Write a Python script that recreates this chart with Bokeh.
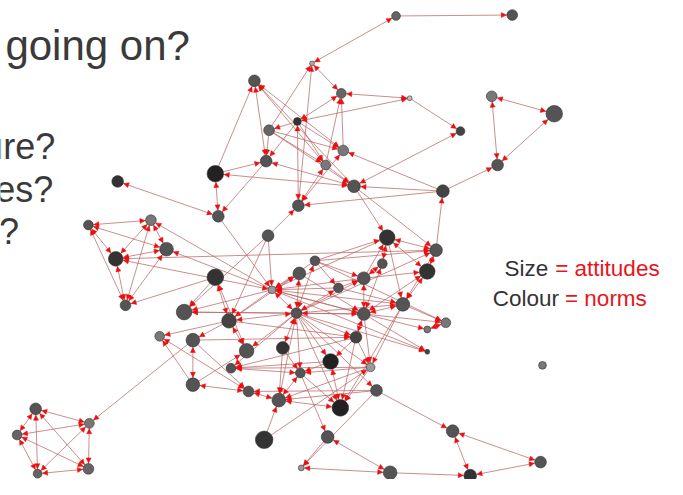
import numpy as np
from bokeh.plotting import figure
from bokeh.models import ColumnDataSource, Range1d, Arrow, NormalHead
from bokeh.core.properties import value
from bokeh.embed import file_html
from bokeh.resources import INLINE

# ---- network data (layout positions, attitudes -> size, norms -> colour) ----
layout_x = [405, 524, 319, 260, 349, 419, 503, 567, 304, 275,
            471, 351, 272, 333, 509, 220, 362, 453, 305, 223,
            120, 90, 154, 274, 396, 170, 118, 128, 446, 322,
            391, 437, 220, 306, 372, 278, 346, 412, 188, 303,
            372, 234, 456, 437, 163, 197, 364, 437, 252, 289,
            338, 236, 307, 379, 197, 254, 385, 285, 348, 555,
            36, 17, 91, 90, 38, 270, 335, 308, 399, 463,
            553, 481]
layout_y = [16, 15, 65, 83, 96, 101, 99, 117, 125, 134,
            135, 155, 166, 170, 170, 179, 192, 197, 212, 223,
            187, 232, 227, 243, 245, 257, 267, 315, 258, 269,
            272, 280, 286, 282, 287, 299, 297, 314, 322, 323,
            324, 331, 333, 340, 347, 351, 348, 363, 362, 359,
            373, 380, 385, 379, 397, 404, 403, 413, 421, 377,
            422, 449, 437, 484, 489, 454, 451, 483, 488, 445,
            477, 491]
attitude = [4.5, 5.5, 2.5, 6, 5, 2.5, 5.5, 8.5, 4, 5.5,
            4.5, 5.5, 6, 5, 6, 8.5, 6.5, 6.5, 6, 6,
            6, 5, 5.5, 6, 8, 7, 7.5, 5.5, 6.5, 5,
            5, 8, 8.5, 6.5, 6.5, 4, 5, 7, 8, 5.5,
            6.5, 7.5, 5, 3.5, 5, 7, 6, 2.5, 7.5, 6.5,
            8, 5, 5, 4.5, 7, 5.5, 6, 7, 8.5, 4,
            6, 5, 5, 5.5, 4.5, 9, 6.5, 3, 7, 6.5,
            6, 6.5]
norm = [0.44, 0.33, 0.89, 0.33, 0.44, 1.0, 0.56, 0.33, 0.11, 0.44,
        0.22, 0.56, 0.33, 0.56, 0.33, 0.0, 0.33, 0.22, 0.33, 0.33,
        0.11, 0.33, 0.56, 0.33, 0.11, 0.33, 0.11, 0.33, 0.33, 0.33,
        0.33, 0.11, 0.11, 0.33, 0.33, 0.78, 0.33, 0.33, 0.33, 0.33,
        0.33, 0.22, 0.56, 0.56, 0.56, 0.33, 0.22, 0.22, 0.33, 0.11,
        0.0, 0.33, 0.33, 0.78, 0.33, 0.33, 0.33, 0.33, 0.0, 0.56,
        0.33, 0.44, 0.56, 0.44, 0.44, 0.11, 0.33, 0.78, 0.33, 0.33,
        0.33, 0.11]

edge_list = [
    (0, 1, 0), (0, 2, 1), (2, 4, 1), (4, 5, 1), (5, 10, 0), (6, 7, 1), (6, 14, 1), (7, 14, 1),
    (17, 14, 0), (10, 16, 1), (15, 3, 0), (3, 12, 1), (3, 11, 1), (3, 13, 1), (16, 3, 0),
    (8, 4, 1), (8, 5, 1), (8, 9, 0), (8, 12, 0), (8, 18, 1), (8, 13, 0), (8, 11, 0),
    (9, 2, 0), (18, 2, 0), (9, 12, 0), (9, 13, 0), (9, 11, 0), (9, 16, 0),
    (12, 16, 1), (16, 15, 1), (15, 12, 0), (15, 19, 1), (12, 19, 0), (17, 16, 0), (17, 11, 0),
    (17, 18, 0), (16, 24, 0), (16, 28, 0), (28, 17, 0), (13, 4, 0), (11, 4, 0), (13, 18, 1),
    (11, 18, 1), (23, 18, 0), (13, 16, 0), (20, 19, 1), (19, 35, 0),
    (21, 22, 1), (21, 26, 1), (21, 25, 1), (21, 27, 1), (22, 26, 1), (22, 25, 1), (22, 27, 1),
    (25, 26, 1), (25, 27, 1), (26, 27, 1),
    (35, 22, 0), (35, 25, 0), (26, 28, 1), (29, 28, 0), (35, 26, 1), (32, 27, 0), (32, 38, 0),
    (23, 38, 0), (23, 41, 0), (29, 35, 0),
    (33, 35, 1), (39, 35, 1), (36, 35, 0), (34, 35, 0), (40, 35, 0), (37, 35, 0), (23, 35, 0),
    (24, 35, 0), (35, 38, 0), (35, 41, 0), (32, 41, 1), (32, 48, 1),
    (39, 33, 1), (41, 33, 0), (33, 40, 0), (39, 29, 1), (29, 36, 0), (29, 34, 0), (29, 24, 0),
    (24, 30, 1), (30, 34, 1), (34, 24, 0), (24, 37, 0), (24, 28, 1), (24, 31, 1), (28, 31, 1),
    (28, 37, 0), (31, 37, 1), (40, 31, 1), (34, 40, 1), (36, 34, 0), (34, 31, 0), (40, 37, 1),
    (40, 42, 0), (40, 43, 0), (42, 43, 1), (40, 46, 1), (30, 40, 1),
    (39, 36, 1), (39, 34, 0), (39, 40, 1), (39, 37, 0), (39, 46, 0), (39, 49, 1), (39, 52, 0),
    (39, 50, 0), (39, 53, 0), (39, 58, 0), (39, 56, 0), (39, 57, 1), (39, 41, 1), (39, 38, 0),
    (39, 48, 0), (39, 28, 0), (39, 47, 0),
    (36, 37, 0), (40, 38, 0), (29, 42, 0), (35, 47, 0), (40, 47, 0), (35, 40, 0), (37, 42, 0),
    (54, 45, 1), (44, 55, 1), (45, 55, 0), (54, 55, 1), (54, 44, 0), (45, 62, 0), (41, 48, 1),
    (41, 45, 0), (45, 46, 0), (41, 46, 0), (41, 44, 0), (54, 48, 0),
    (49, 52, 0), (49, 57, 0), (53, 51, 0), (50, 51, 0), (52, 51, 1), (46, 51, 0), (39, 51, 0),
    (53, 52, 0), (50, 52, 0), (52, 58, 0), (52, 57, 1), (52, 66, 0),
    (50, 58, 1), (53, 57, 0), (53, 58, 0), (46, 53, 0), (37, 53, 0), (40, 53, 0),
    (57, 55, 1), (56, 55, 0), (56, 57, 0), (56, 67, 0), (56, 69, 0), (57, 58, 1), (65, 57, 0),
    (65, 53, 0), (46, 58, 0), (37, 58, 0), (46, 50, 0),
    (66, 68, 1), (66, 67, 0), (67, 68, 1), (68, 71, 0), (69, 71, 1), (69, 70, 1), (70, 71, 1),
    (60, 61, 1), (60, 62, 1), (60, 63, 1), (60, 64, 1), (61, 62, 1), (61, 63, 1), (61, 64, 1),
    (62, 63, 1), (62, 64, 1), (63, 64, 1),
]
edge_src = [e[0] for e in edge_list]
edge_dst = [e[1] for e in edge_list]
edge_mutual = [e[2] for e in edge_list]

title_text = "going on?"
question_lines = ["ure?", "es?", "?"]
legend_keys = ["Size", "Colour"]
legend_vals = ["= attitudes", "= norms"]

# ---- derived drawing tables ----
x = np.array(layout_x, float)
y = np.array(layout_y, float)
size = 2.0 * np.array(attitude, float)
g = (34 + np.array(norm) * 153).round().astype(int)
colors = ["#%02x%02x%02x" % (v, v, v) for v in g]

s = np.array(edge_src)
t = np.array(edge_dst)
m = np.array(edge_mutual, bool)

a_s = np.concatenate([s, t[m]])
a_t = np.concatenate([t, s[m]])
dx = x[a_t] - x[a_s]
dy = y[a_t] - y[a_s]
L = np.hypot(dx, dy)
r = size[a_t] / 2 + 0.6
ax1 = x[a_t] - dx / L * r
ay1 = y[a_t] - dy / L * r
ax0 = ax1 - dx / L * 8
ay0 = ay1 - dy / L * 8

W, H = 667, 479
p = figure(width=W, height=H, x_range=Range1d(0, 683), y_range=Range1d(495, 0),
           output_backend="svg", toolbar_location=None, min_border=0)
p.axis.visible = False
p.grid.visible = False
p.outline_line_color = None
p.background_fill_color = "white"
p.border_fill_color = "white"

p.segment(x0=x[s], y0=y[s], x1=x[t], y1=y[t], line_color="#b86060", line_width=0.8, line_alpha=0.9)

arr_src = ColumnDataSource(dict(x0=ax0, y0=ay0, x1=ax1, y1=ay1))
p.add_layout(Arrow(end=NormalHead(size=5, fill_color="#e81010", line_color="#e81010", line_width=0.5),
                   x_start="x0", y_start="y0", x_end="x1", y_end="y1", source=arr_src,
                   line_alpha=0))

p.scatter(x=x, y=y, size=size * 0.975, fill_color=colors, line_color="#303030", line_width=0.6)

font = value("Liberation Sans")
p.text(x=[5], y=[46], text=[title_text], text_font=font, text_font_size="42px",
       text_color="#3a3a3a", text_baseline="alphabetic", text_align="left")
p.text(x=[56, 54, 19], y=[151, 195, 239], text=question_lines, text_font=font,
       text_font_size="36px", text_color="#3a3a3a", text_baseline="alphabetic", text_align="right")
p.text(x=[516, 504], y=[277, 308], text=legend_keys, text_font=font, text_font_size="22.5px",
       text_color="#333333", text_baseline="alphabetic", text_align="left")
p.text(x=[568, 578], y=[277, 308], text=legend_vals, text_font=font, text_font_size="22.5px",
       text_color="#e8141c", text_baseline="alphabetic", text_align="left")

open("out.html", "w").write(file_html(p, INLINE))
